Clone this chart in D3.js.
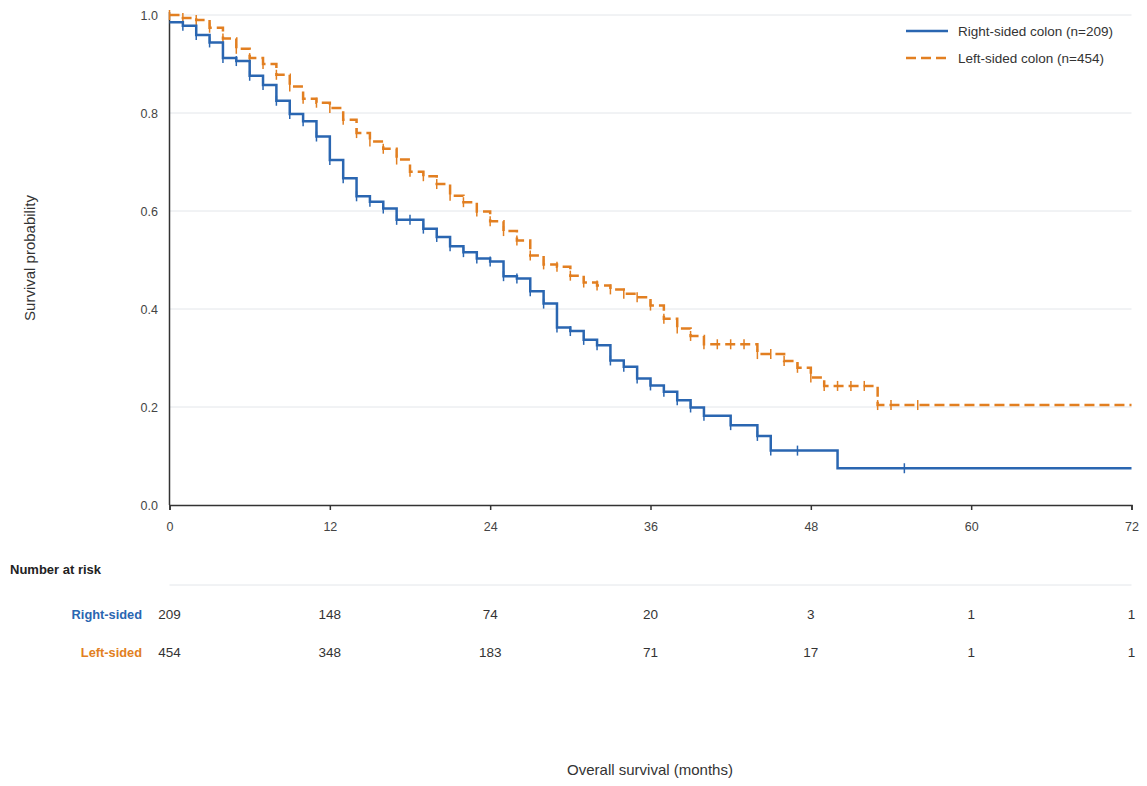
<!DOCTYPE html>
<html>
<head>
<meta charset="utf-8">
<script src="https://cdn.jsdelivr.net/npm/d3@7"></script>
<style>
  html, body { margin: 0; padding: 0; background: #fff; }
  svg { display: block; font-family: "Liberation Sans", Arial, sans-serif; }
</style>
</head>
<body>
<svg id="chart" width="1147" height="786"></svg>
<script>
// ---- data ----
const seriesNames = ["Right-sided colon (n=209)", "Left-sided colon (n=454)"];
const riskLabels = ["Right-sided", "Left-sided"];
const xTicks = [0, 12, 24, 36, 48, 60, 72];
const yTicks = [0.0, 0.2, 0.4, 0.6, 0.8, 1.0];

// Right-sided: [month, survival]
const rightTimes = [0,1,2,3,4,5,6,7,8,9,10,11,12,13,14,15,16,17,19,20,21,22,23,24,25,26,27,28,29,30,31,32,33,34,35,36,37,38,39,40,42,44,45,50,72];
const rightSurv  = [0.985,0.978,0.959,0.944,0.912,0.906,0.876,0.857,0.825,0.798,0.783,0.752,0.704,0.667,0.630,0.619,0.605,0.582,0.564,0.547,0.528,0.516,0.503,0.497,0.467,0.462,0.436,0.411,0.362,0.355,0.337,0.326,0.295,0.282,0.258,0.244,0.231,0.214,0.199,0.182,0.163,0.141,0.111,0.075,0.075];
const rightCensor = [1,2,3,4,5,6,7,8,9,10,11,12,13,14,15,16,17,18,19,20,21,22,23,24,25,26,27,28,29,30,31,32,33,34,35,36,37,38,39,40,42,44,45,47,55];

// Left-sided
const leftTimes = [0,1,2,3,4,5,6,7,8,9,10,11,12,13,14,15,16,17,18,19,20,21,22,23,24,25,26,27,28,29,30,31,32,33,34,35,36,37,38,39,40,44,46,47,48,49,53,72];
const leftSurv  = [1.0,0.994,0.990,0.974,0.952,0.931,0.912,0.900,0.878,0.854,0.829,0.821,0.810,0.786,0.759,0.742,0.727,0.705,0.680,0.671,0.655,0.631,0.618,0.599,0.579,0.559,0.540,0.509,0.491,0.486,0.468,0.454,0.448,0.440,0.431,0.424,0.407,0.380,0.360,0.345,0.328,0.308,0.294,0.280,0.260,0.243,0.204,0.204];
const leftCensor = [0,1,2,3,4,5,6,7,8,9,10,11,12,13,14,15,16,17,18,19,20,21,22,23,24,25,26,27,28,29,30,31,32,33,34,35,36,37,38,39,40,41,42,43,44,45,46,47,48,49,50,51,52,53,54,56];

const riskRight = [209, 148, 74, 20, 3, 1, 1];
const riskLeft  = [454, 348, 183, 71, 17, 1, 1];

// ---- styles ----
const blue = "#2a66b1", orange = "#e27f21";

const svg = d3.select("#chart");
const x = d3.scaleLinear().domain([0, 72]).range([169.5, 1131.5]);
const y = d3.scaleLinear().domain([0, 1]).range([505, 15]);

// gridlines
svg.append("g").selectAll("line").data(yTicks.filter(d => d > 0)).join("line")
  .attr("x1", x(0)).attr("x2", x(72))
  .attr("y1", d => y(d)).attr("y2", d => y(d))
  .attr("stroke", "#e3e6ea").attr("stroke-width", 1);

// y tick labels
svg.append("g").selectAll("text").data(yTicks).join("text")
  .attr("x", 158).attr("y", d => y(d) + 4.5)
  .attr("text-anchor", "end").attr("font-size", 12.5).attr("fill", "#444")
  .text(d => d.toFixed(1));

// x axis
const xAxis = svg.append("g").attr("transform", `translate(0,${y(0)})`)
  .call(d3.axisBottom(x).tickValues(xTicks).tickSize(5).tickPadding(12).tickFormat(d3.format("d")));
xAxis.select(".domain").attr("stroke", "#333").attr("stroke-width", 1.5);
xAxis.selectAll(".tick line").attr("stroke", "#333").attr("stroke-width", 1.5);
xAxis.selectAll(".tick text").attr("font-size", 12.5).attr("fill", "#444")
  .attr("font-family", "Liberation Sans, Arial, sans-serif");

// y axis line
svg.append("line").attr("x1", x(0)).attr("x2", x(0)).attr("y1", y(1) - 3).attr("y2", y(0))
  .attr("stroke", "#333").attr("stroke-width", 1.5);

// curves
const line = d3.line().x(d => x(d[0])).y(d => y(d[1])).curve(d3.curveStepAfter);
const rightData = rightTimes.map((t, i) => [t, rightSurv[i]]);
const leftData = leftTimes.map((t, i) => [t, leftSurv[i]]);

function survAt(times, surv, t) {
  let v = surv[0];
  for (let i = 0; i < times.length; i++) { if (times[i] <= t) v = surv[i]; }
  return v;
}

svg.append("path").datum(leftData).attr("d", line)
  .attr("fill", "none").attr("stroke", orange).attr("stroke-width", 2.5)
  .attr("stroke-dasharray", "10,5");
svg.append("g").selectAll("line").data(leftCensor).join("line")
  .attr("x1", d => x(d)).attr("x2", d => x(d))
  .attr("y1", d => y(survAt(leftTimes, leftSurv, d)) - 5)
  .attr("y2", d => y(survAt(leftTimes, leftSurv, d)) + 5)
  .attr("stroke", orange).attr("stroke-width", 1.5);

svg.append("path").datum(rightData).attr("d", line)
  .attr("fill", "none").attr("stroke", blue).attr("stroke-width", 2.5);
svg.append("g").selectAll("line").data(rightCensor).join("line")
  .attr("x1", d => x(d)).attr("x2", d => x(d))
  .attr("y1", d => y(survAt(rightTimes, rightSurv, d)) - 5)
  .attr("y2", d => y(survAt(rightTimes, rightSurv, d)) + 5)
  .attr("stroke", blue).attr("stroke-width", 1.5);

// legend
const legend = svg.append("g");
[blue, orange].forEach((c, i) => {
  const ly = 31 + i * 27;
  legend.append("line").attr("x1", 906).attr("x2", 948).attr("y1", ly).attr("y2", ly)
    .attr("stroke", c).attr("stroke-width", 2.5)
    .attr("stroke-dasharray", i === 1 ? "10,5" : null);
  legend.append("text").attr("x", 958).attr("y", ly + 5)
    .attr("font-size", 13.5).attr("fill", "#333").text(seriesNames[i]);
});

// axis titles
svg.append("text").attr("transform", "translate(35,258) rotate(-90)")
  .attr("text-anchor", "middle").attr("font-size", 15).attr("fill", "#333")
  .text("Survival probability");
svg.append("text").attr("x", 650).attr("y", 775)
  .attr("text-anchor", "middle").attr("font-size", 15).attr("fill", "#333")
  .text("Overall survival (months)");

// risk table
svg.append("text").attr("x", 10).attr("y", 574).attr("font-size", 13)
  .attr("font-weight", "bold").attr("fill", "#222").text("Number at risk");
svg.append("line").attr("x1", x(0)).attr("x2", x(72)).attr("y1", 585).attr("y2", 585)
  .attr("stroke", "#e3e6ea").attr("stroke-width", 1);

[[riskRight, blue, 619], [riskLeft, orange, 657]].forEach(([vals, c, ry], i) => {
  svg.append("text").attr("x", 142).attr("y", ry).attr("text-anchor", "end")
    .attr("font-size", 12.8).attr("font-weight", "bold").attr("fill", c).text(riskLabels[i]);
  svg.append("g").selectAll("text").data(vals).join("text")
    .attr("x", (d, j) => x(xTicks[j])).attr("y", ry)
    .attr("text-anchor", "middle").attr("font-size", 13.5).attr("fill", "#333")
    .text(d => d);
});
</script>
</body>
</html>
